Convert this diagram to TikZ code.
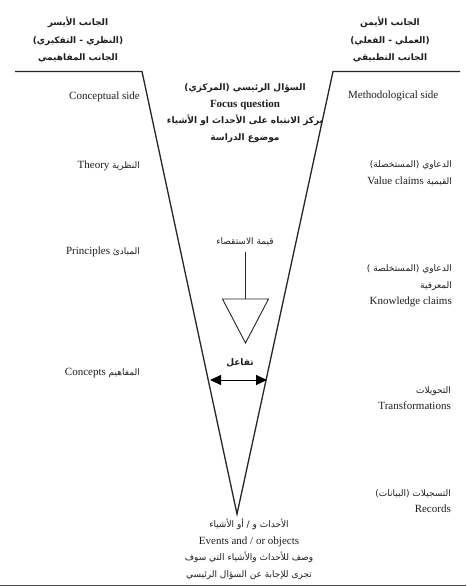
\documentclass[tikz,border=0pt]{standalone}
\usepackage{fontspec}
\setmainfont{Liberation Serif}
\newfontfamily\arabicfont[Script=Arabic]{DejaVu Sans}
\TeXXeTstate=1
\usetikzlibrary{arrows.meta}
\newcommand{\AR}[1]{{\arabicfont\beginR #1\endR}}
\newcommand{\ARs}[1]{{\fontsize{9}{10}\selectfont\arabicfont\beginR #1\endR}}
\begin{document}
\begin{tikzpicture}[x=1pt,y=-1pt,
  txt/.style={inner sep=0pt, text=black!88, font=\fontsize{11}{16.5}\selectfont},
  hdr/.style={txt, align=center, font=\fontsize{9}{17.5}\selectfont\bfseries},
  vline/.style={line width=1.3pt, black!85}]
\useasboundingbox (0,0) rectangle (466,586);
\fill[white] (0,0) rectangle (466,586);
% V outline
\coordinate (lstart) at (15,71.5);
\coordinate (lc) at (142,71.5);
\coordinate (apex) at (237,514);
\coordinate (rc) at (333,71.5);
\coordinate (rend) at (460,71.5);
\draw[vline, line join=miter] (lstart) -- (lc) -- (apex) -- (rc) -- (rend);
% bottom line
\coordinate (bl) at (0,585);
\coordinate (br) at (466,585);
\draw[black!70, line width=0.8pt] (bl) -- (br);
% inquiry value arrow: shaft as a thin bar, head as hollow triangle
\coordinate (shaftL) at (245,252);
\coordinate (shaftR) at (246,299);
\coordinate (tril) at (222.5,299);
\coordinate (trir) at (268.5,299);
\coordinate (arrtip) at (245.5,343);
\fill[black!85] (shaftL) rectangle (shaftR);
\draw[line width=0.9pt, black!85, line join=miter] (tril) -- (trir) -- (arrtip) -- cycle;
% interaction
\coordinate (ia1) at (210,380);
\coordinate (ia2) at (267,380);
\draw[line width=1pt, {Triangle[length=11pt,width=10pt]}-{Triangle[length=11pt,width=10pt]}] (ia1) -- (ia2);
% headers
\node[hdr] (hdrL) at (78,40) {\AR{الجانب الأيسر}\\\AR{(النظري - التفكيري)}\\\AR{الجانب المفاهيمي}};
\node[hdr] (hdrR) at (390,40) {\AR{الجانب الأيمن}\\\AR{(العملي - الفعلي)}\\\AR{الجانب التطبيقي}};
% focus question
\node[txt, align=center] (focus) at (245,113) {{\fontsize{9}{10}\selectfont\bfseries\AR{السؤال الرئيسي (المركزي)}}\\ \textbf{Focus question}\\ {\fontsize{9}{10}\selectfont\bfseries\AR{يركز الانتباه على الأحداث او الأشياء}}\\ {\fontsize{9}{10}\selectfont\bfseries\AR{موضوع الدراسة}}};
% left side
\node[txt, anchor=east] (concside) at (140,97) {Conceptual side};
\node[txt, anchor=east] (theory) at (140,166) {Theory \ARs{النظرية}};
\node[txt, anchor=east] (princ) at (140,252) {Principles \ARs{المبادئ}};
\node[txt, anchor=east] (conc) at (140,373) {Concepts \ARs{المفاهيم}};
% right side
\node[txt, anchor=west] (methside) at (348,96) {Methodological side};
\node[txt, anchor=east, align=right] (value) at (452,173) {\ARs{الدعاوي (المستخصلة)}\\Value claims \ARs{القيمية}};
\node[txt, anchor=east, align=right] (know) at (452,286) {\ARs{الدعاوي (المستخلصة )}\\\ARs{المعرفية}\\Knowledge claims};
\node[txt, anchor=east, align=right] (trans) at (451,398) {\ARs{التحويلات}\\Transformations};
\node[txt, anchor=east, align=right] (records) at (451,501) {\ARs{التسجيلات (البيانات)}\\Records};
% bottom
\node[txt, align=center] (events) at (249,549) {\ARs{الأحداث و / أو الأشياء}\\Events and / or objects\\\ARs{وصف للأحداث والأشياء التي سوف}\\\ARs{تجرى للإجابة عن السؤال الرئيسي}};
% labels
\node[txt] (inq) at (245,242) {\ARs{قيمة الاستقصاء}};
\node[txt, font=\fontsize{9}{10}\selectfont\bfseries] (inter) at (240,363) {\AR{تفاعل}};
\end{tikzpicture}
\end{document}
